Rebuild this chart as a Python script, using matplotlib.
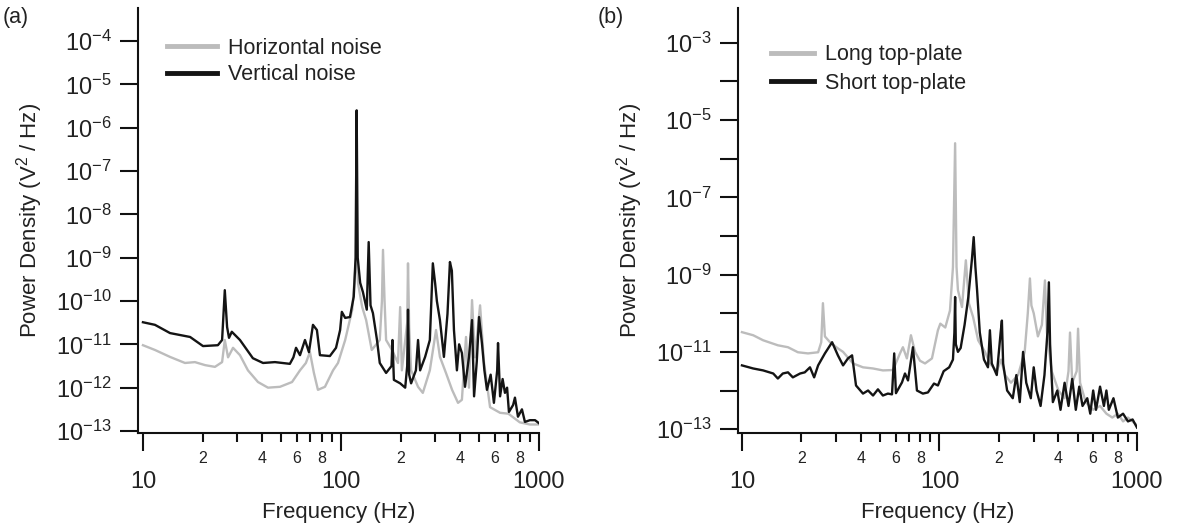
import numpy as np
import matplotlib
matplotlib.use("Agg")
from matplotlib import pyplot as plt

plt.rcParams['font.family'] = ['Liberation Sans', 'DejaVu Sans']
plt.rcParams['mathtext.fontset'] = 'custom'
plt.rcParams['mathtext.rm'] = 'Liberation Sans'
plt.rcParams['mathtext.it'] = 'Liberation Sans'
plt.rcParams['mathtext.default'] = 'regular'

# spectra; levels kept as log10 of V^2/Hz
# (a) horizontal vs vertical noise
horiz_freq = [10, 11.5, 13.7, 16.3, 18.3, 20.6, 23.1, 25.1, 25.9, 26.9, 28.5, 30.9, 33.9, 38.1,
              42.8, 49.2, 56.6, 62.1, 66.5, 69.7, 73.0, 76.5, 83.0, 91.2, 96.6, 105, 114, 118,
              120, 122, 128, 134, 143, 157, 161, 163, 166, 169, 181, 194, 199, 203, 216, 218,
              221, 226, 245, 259, 281, 302, 316, 339, 364, 390, 408, 428, 443, 459, 475, 504,
              527, 566, 636, 700, 800, 900, 1000]
horiz_log = [-11.02, -11.13, -11.29, -11.43, -11.41, -11.48, -11.52, -11.41, -10.9, -11.3, -11.08,
             -11.25, -11.6, -11.87, -12.0, -11.98, -11.87, -11.6, -11.43, -11.18, -11.66, -12.05,
             -11.98, -11.6, -11.43, -10.9, -10.2, -9.3, -9.0, -9.6, -10.14, -10.44, -11.13, -10.9,
             -10.0, -8.82, -10.0, -10.9, -11.13, -11.43, -10.14, -11.6, -10.5, -9.13, -10.6, -11.6,
             -11.98, -12.12, -11.6, -10.67, -11.29, -11.66, -12.05, -12.35, -12.28, -10.83, -12.0,
             -9.98, -11.3, -10.1, -11.4, -12.45, -12.58, -12.6, -12.8, -12.85, -12.85]

vert_freq = [10, 11.5, 13.7, 17.3, 20.1, 23.9, 25.1, 25.9, 26.6, 27.2, 28.1, 30.9, 35.9, 40.4,
             46.4, 55.2, 57.5, 59.3, 62.1, 65.8, 68.9, 72.2, 75.6, 78.3, 87.9, 94.4, 99, 101,
             105, 111, 116, 118.5, 120, 121.5, 125, 129, 135, 138, 141, 145, 152, 157, 169,
             180, 182, 185, 199, 211, 216, 218, 221, 226, 239, 245, 251, 266, 281, 291, 299,
             305, 316, 331, 345, 355, 363, 372, 385, 395, 408, 423, 443, 459, 470, 485, 498,
             515, 530, 546, 570, 592, 615, 621, 636, 655, 673, 690, 705, 740, 756, 783, 820,
             849, 900, 955, 1000]
vert_log = [-10.49, -10.55, -10.74, -10.83, -11.04, -11.02, -10.9, -9.75, -10.6, -10.85, -10.71,
            -10.9, -11.32, -11.43, -11.41, -11.45, -11.3, -11.08, -11.25, -10.9, -11.18, -10.55,
            -10.67, -11.25, -11.27, -11.08, -10.67, -10.25, -10.39, -10.37, -9.9, -9.0, -5.6,
            -9.0, -9.58, -9.79, -10.2, -8.64, -10.1, -10.28, -10.9, -11.43, -11.66, -11.5, -10.9,
            -11.82, -11.9, -12.0, -11.5, -10.2, -11.7, -11.9, -11.6, -10.9, -11.6, -11.29, -10.9,
            -9.13, -9.6, -10.0, -10.44, -11.29, -10.3, -9.1, -9.3, -10.67, -11.6, -11.0, -11.2,
            -11.98, -11.29, -10.44, -12.2, -11.4, -10.37, -10.97, -11.6, -12.05, -11.7, -12.35,
            -11.6, -10.97, -12.2, -11.8, -12.12, -12.0, -12.56, -12.4, -12.23, -12.67, -12.5,
            -12.79, -12.75, -12.75, -12.82]

# (b) long vs short top-plate
long_freq = [10, 11.4, 12.8, 15.2, 17.1, 19.2, 21.6, 24.3, 25.2, 25.7, 26.3, 27.9, 30.6, 32.5,
             36.5, 41.0, 46.1, 51.7, 58.2, 63.1, 65.3, 68.4, 71.7, 75.2, 79.7, 84.5, 91.6, 98.2,
             101, 107, 113, 117, 120, 122, 124, 130, 136, 141, 148, 157, 170, 180, 195, 205,
             215, 230, 250, 270, 280, 287, 292, 300, 315, 330, 342, 350, 370, 400, 430, 450,
             458, 470, 495, 503, 515, 550, 600, 650, 700, 750, 800, 850, 900, 1000]
long_log = [-10.49, -10.57, -10.7, -10.83, -10.88, -11.01, -11.04, -11.01, -10.75, -9.74, -10.6,
            -10.75, -10.91, -11.0, -11.3, -11.4, -11.43, -11.48, -11.47, -11.04, -10.88, -11.17,
            -10.57, -11.0, -11.23, -11.3, -11.17, -10.44, -10.27, -10.37, -9.93, -8.81, -5.6,
            -8.8, -9.4, -9.84, -8.63, -9.75, -10.1, -10.7, -11.0, -11.3, -11.5, -11.2, -11.6,
            -11.8, -11.6, -11.0, -10.0, -9.1, -9.8, -10.0, -10.6, -10.3, -9.15, -10.5, -11.5,
            -12.0, -12.2, -11.5, -10.5, -11.8, -11.5, -10.4, -11.8, -12.3, -12.5, -12.4, -12.6,
            -12.7, -12.6, -12.8, -12.7, -12.9]

short_freq = [10, 11.4, 12.8, 14.4, 15.2, 16.1, 17.1, 18.1, 19.7, 20.8, 22.1, 23.2, 24.3, 26.3,
              28.6, 30.6, 32.5, 34.4, 36.1, 37.8, 41.0, 43.5, 46.1, 48.8, 51.7, 54.8, 57.5, 59.0,
              60.2, 64.6, 66.9, 69.3, 73.4, 76.9, 82.4, 87.4, 93.8, 98.2, 105, 112, 117, 119,
              120, 121, 124, 128, 134, 140, 146, 149, 152, 155, 160, 168, 176, 180, 184, 195,
              204, 207, 210, 220, 235, 245, 255, 265, 275, 290, 300, 310, 325, 340, 352, 358,
              363, 375, 395, 410, 430, 450, 470, 490, 510, 530, 560, 580, 600, 620, 650, 680,
              700, 720, 760, 800, 850, 900, 950, 1000]
short_log = [-11.35, -11.43, -11.48, -11.56, -11.69, -11.56, -11.53, -11.66, -11.56, -11.53, -11.4,
             -11.66, -11.35, -11.04, -10.75, -11.09, -11.35, -11.17, -11.09, -11.87, -12.08, -12.0,
             -12.13, -11.97, -12.13, -12.08, -12.1, -11.04, -12.07, -11.79, -11.56, -11.74, -10.88,
             -12.0, -12.08, -12.05, -11.82, -11.87, -11.5, -11.4, -11.2, -10.5, -9.58, -10.8,
             -11.0, -10.9, -10.3, -9.58, -8.6, -8.03, -8.8, -9.4, -10.5, -11.2, -11.4, -10.44,
             -11.3, -11.6, -10.5, -10.19, -11.3, -12.0, -12.2, -11.6, -12.3, -11.0, -11.8, -12.2,
             -11.4, -12.0, -12.4, -11.6, -10.5, -9.2, -10.8, -12.3, -12.0, -12.5, -11.8, -12.4,
             -11.7, -12.5, -11.9, -12.4, -12.2, -12.6, -12.0, -12.5, -11.9, -12.4, -12.0, -12.5,
             -12.2, -12.7, -12.6, -12.8, -12.75, -12.96]

minor_pos = [m * d for d in (10, 100) for m in range(2, 10)]
minor_lab = [str(m) if m in (2, 4, 6, 8) else '' for d in (10, 100) for m in range(2, 10)]

GRAY = '#bcbcbc'
BLACK = '#141414'


def style_axes(ax, ylim, ydecades, ylabels, xlim):
    ax.set_xscale('log')
    ax.set_yscale('log')
    ax.set_xlim(*xlim)
    ax.set_ylim(*ylim)
    for s in ('top', 'right'):
        ax.spines[s].set_visible(False)
    for s in ('left', 'bottom'):
        ax.spines[s].set_linewidth(1.5)
        ax.spines[s].set_color('#111111')
    ax.set_xticks([10, 100, 1000])
    ax.set_xticklabels(['10', '100', '1000'])
    ax.set_xticks(minor_pos, minor=True)
    ax.set_xticklabels(minor_lab, minor=True)
    ax.set_yticks([10.0 ** e for e in ydecades])
    ax.set_yticklabels(ylabels)
    ax.yaxis.set_minor_locator(matplotlib.ticker.NullLocator())
    ax.tick_params(axis='x', which='major', direction='out', length=13, width=1.5,
                   labelsize=17, pad=14.5, colors='#111111', labelcolor='#222222')
    ax.tick_params(axis='x', which='minor', direction='out', length=6.5, width=1.5,
                   labelsize=11.5, pad=6.5, colors='#111111', labelcolor='#222222')
    ax.tick_params(axis='y', which='major', direction='out', length=13, width=1.5,
                   labelsize=17, pad=6, colors='#111111', labelcolor='#222222')
    ax.set_xlabel('Frequency (Hz)', fontsize=16, color='#222222', labelpad=6)
    ax.set_ylabel('Power Density (V$^2$ / Hz)', fontsize=16, color='#222222', labelpad=8)


fig = plt.figure(figsize=(11.8, 5.29), dpi=100)

# panel (a)
ax1 = fig.add_axes([138 / 1180, 1 - 433 / 529, 401 / 1180, 425 / 529])
ax1.plot(horiz_freq, 10.0 ** np.array(horiz_log), color=GRAY, lw=1.7, label='Horizontal noise')
ax1.plot(vert_freq, 10.0 ** np.array(vert_log), color=BLACK, lw=1.7, label='Vertical noise')
dec_a = list(range(-13, -3))
style_axes(ax1, (10 ** -13.046, 10 ** -3.238), dec_a,
           ['$10^{%d}$' % e for e in dec_a], (10 ** 0.975, 1000))
leg1 = ax1.legend(loc='upper left', bbox_to_anchor=(0.025, 0.975), frameon=False, fontsize=15.5,
                  handlelength=2.3, handletextpad=0.5, labelspacing=0.25, labelcolor='#222222')
for ln in leg1.get_lines():
    ln.set_linewidth(3.5)
fig.text(3 / 1180, 1 - 17 / 529, '(a)', fontsize=15.5, va='center', ha='left', color='#222222')

# panel (b)
ax2 = fig.add_axes([738 / 1180, 1 - 433 / 529, 399 / 1180, 425 / 529])
ax2.plot(long_freq, 10.0 ** np.array(long_log), color=GRAY, lw=1.7, label='Long top-plate')
ax2.plot(short_freq, 10.0 ** np.array(short_log), color=BLACK, lw=1.7, label='Short top-plate')
dec_b = list(range(-13, -2))
style_axes(ax2, (10 ** -13.10, 10 ** -2.10), dec_b,
           ['$10^{%d}$' % e if e % 2 else '' for e in dec_b], (10 ** 0.98, 1000))
leg2 = ax2.legend(loc='upper left', bbox_to_anchor=(0.035, 0.96), frameon=False, fontsize=15.5,
                  handlelength=2.0, handletextpad=0.5, labelspacing=0.35, labelcolor='#222222')
for ln in leg2.get_lines():
    ln.set_linewidth(3.5)
fig.text(598 / 1180, 1 - 17 / 529, '(b)', fontsize=15.5, va='center', ha='left', color='#222222')

fig.savefig('out.png', dpi=100)
